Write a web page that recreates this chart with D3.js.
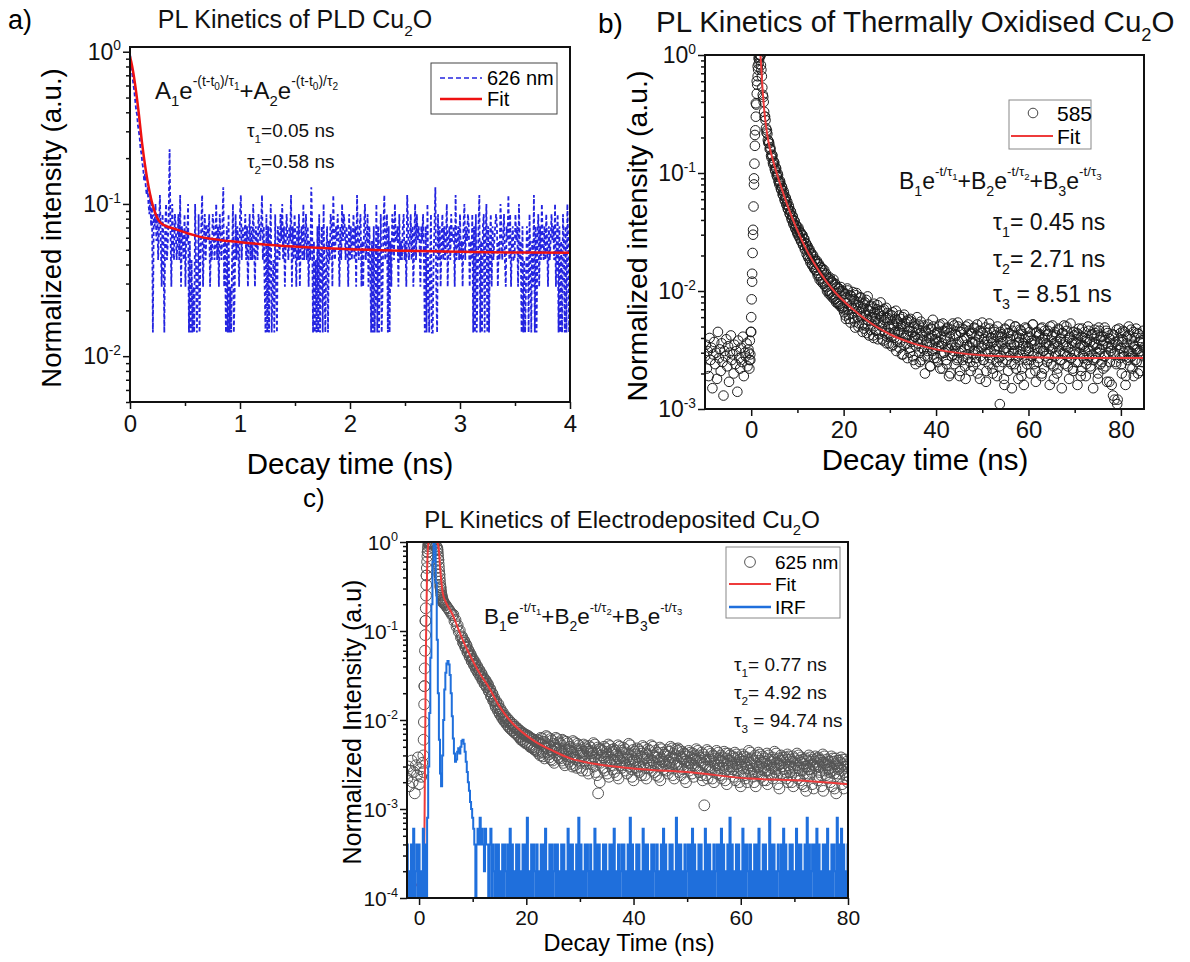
<!DOCTYPE html>
<html>
<head>
<meta charset="utf-8">
<script src="https://cdn.jsdelivr.net/npm/d3@7"></script>
<style>
  body { margin: 0; background: #fff; }
  svg { font-family: "Liberation Sans", Arial, sans-serif; }
</style>
</head>
<body>
<script>
// ---------- panel a: PLD Cu2O, photon counts (peak = 70 counts), 0.008 ns bins
var aStart = 0, aStep = 0.008, aPeak = 70;
var aCounts = [
  68,60,54,47,42,38,33,29,27,23, 21,19,16,15,13,12,10,11,9,8, 9,7,6,8,5,7,1,6,5,7, 4,6,
  3,5,8,4,2,6,4,1,5,7,3,4,6,16,5,2,7,4,3,6,
  5,3,4,6,3,8,2,5,4,3,6,2,5,4,7,1,4,1,3,1,
  2,1,7,3,1,2,6,1,3,5,8,2,4,6,3,5,5,4,6,2,
  4,3,6,5,3,4,7,3,5,2,6,4,3,5,9,2,4,1,5,1,
  6,1,2,1,3,7,1,2,6,3,5,4,2,6,8,3,5,4,4,6,
  3,5,2,4,6,3,5,3,7,4,2,5,4,3,6,5,4,5,8,3,
  5,2,1,6,1,5,1,4,7,1,2,3,1,6,2,1,5,4,3,6,
  4,7,3,5,2,4,6,4,3,5,4,8,2,5,3,6,4,2,5,3,
  6,2,4,5,3,7,3,4,6,3,5,2,4,3,9,5,1,4,1,3,
  1,5,1,6,1,3,5,1,7,2,1,3,5,1,4,3,6,5,2,8,
  4,3,5,4,6,4,2,5,3,7,4,6,5,3,5,4,2,6,3,5,
  3,4,6,3,5,2,8,4,3,5,6,2,4,2,5,7,3,4,6,2,
  5,3,1,4,1,5,1,2,7,1,5,1,3,6,1,2,5,8,3,4,
  6,1,5,1,4,2,6,5,3,7,4,4,5,2,6,3,4,3,5,6,
  3,4,2,8,5,3,4,6,3,5,2,4,7,3,6,4,5,4,2,5,
  4,6,3,1,5,1,7,2,1,3,6,1,1,3,5,9,2,1,6,3,
  5,2,4,6,3,5,3,4,7,2,4,5,3,6,4,4,5,2,8,3,
  4,5,3,6,3,4,2,5,7,3,5,4,6,5,2,4,3,6,1,5,
  1,6,1,2,5,8,1,4,1,5,6,1,4,7,1,5,1,4,6,2,
  5,3,4,5,6,5,2,4,3,7,5,3,4,6,3,2,5,4,8,3,
  6,2,4,5,3,3,6,4,5,2,7,3,4,1,5,1,3,1,2,5,
  4,1,6,3,1,4,2,8,1,5,1,4,6,2,5,3,7,4,3,5,
  3,6,4,2,5,3,4,6,4,5,3,7,2,4,6,1,5,1,4,1,
  6,4,1,5,1,7,4,1,5
];
var aFitT = [0, 0.02, 0.045, 0.077, 0.11, 0.157, 0.21, 0.28, 0.42, 0.63, 0.9, 1.25, 1.6, 1.95, 2.5, 3.0, 3.5, 4.0];
var aFitV = [0.93, 0.80, 0.62, 0.41, 0.25, 0.145, 0.096, 0.075, 0.068, 0.061, 0.057, 0.054, 0.052, 0.0505, 0.0492, 0.0485, 0.048, 0.0478];
var aXTicks = [0, 1, 2, 3, 4];
var aXMinor = [0.5, 1.5, 2.5, 3.5];
var aYExp = [0, -1, -2];

// ---------- panel b: thermally oxidised, values in units of 1e-4, 0.2 ns bins from -10 ns
var unit = 1e-4;
var bStart = -10, bStep = 0.2;
var bSignal = [
  28,35,22,31,19,40,26,33,15,29, 37,24,30,18,45,27,32,21,36,25, 13,31,28,39,23,34,17,30,42,26,
  29,20,35,24,31,14,38,27,22,33, 25,41,19,30,28,36,23,32,26,29,
  45,120,300,900,2100,3900,6000,8000,9400,10000,9900,
  7500,5300,4400,3300,3000,2400,2300,1900,1850,1600,
  1580,1350,1400,1180,1220,1040,1090,930,960,830,
  860,740,770,660,700,600,620,540,570,490,
  510,445,470,400,425,365,390,335,355,310,
  345,290,315,265,300,245,275,225,255,205,
  240,190,225,175,210,165,200,155,185,150,
  180,135,170,125,160,120,155,115,150,110,
  140,100,122,95,130,92,118,88,125,85,
  115,80,96,78,105,75,108,72,100,70,
  95,62,88,105,70,58,92,75,64,98,
  85,55,72,96,60,50,80,66,88,52,
  72,48,80,62,44,90,56,68,47,75,
  60,42,78,55,46,70,39,64,52,80,
  50,68,38,57,44,72,41,59,36,63,
  48,34,66,52,40,58,31,55,45,62,
  37,50,29,60,44,35,53,42,27,57,
  46,33,55,39,28,50,41,24,48,36,
  52,30,44,26,38,49,32,20,45,35,
  28,47,36,23,42,31,50,27,39,33,
  44,25,37,52,29,34,22,46,30,40,
  26,48,33,19,41,36,28,53,31,24,
  43,35,27,50,30,21,45,38,26,47,
  32,18,40,29,52,34,25,44,37,23,
  49,31,27,42,20,36,46,28,33,54,
  26,39,30,17,44,35,24,48,31,40,
  22,37,45,29,34,19,41,27,11,36,
  43,25,32,16,47,30,38,21,44,28,
  35,15,42,31,24,50,27,36,18,40,
  29,46,22,34,16,39,31,48,26,33,
  41,20,36,28,52,24,38,17,45,30,
  27,43,33,19,49,31,22,40,35,25,
  46,29,16,38,32,51,23,36,28,42,
  20,34,47,26,39,15,44,30,24,37,
  50,28,33,18,41,27,36,22,45,31,
  25,39,16,43,30,35,21,48,28,34,
  40,19,37,26,46,32,23,42,29,15,
  36,44,27,33,18,49,30,24,41,35,
  22,38,28,46,17,34,40,25,31,16,
  43,29,12,37,24,11,35,48,27,33,
  20,39,30,45,16,36,26,42,31,23,
  47,28,35,19,40,32,25,44,30,37,
  21,38,29,46,33
];
// in-between bins after the peak (2.1 ns onwards)
var bOddStart = 2.1;
var bOdd = [
  8200,6600,4600,4000,3000,2800,2200,2150,1800,1780,
  1650,1400,1430,1220,1250,1080,1110,960,990,860,
  800,830,720,750,650,670,580,610,540,500,
  530,455,475,415,435,375,395,345,362,318,
  300,330,280,310,262,296,245,275,230,250,
  235,198,222,185,205,170,195,160,180,150,
  175,142,168,136,158,128,150,121,142,116,
  136,108,130,101,126,97,122,94,118,90,
  112,86,108,80,104,78,100,75,97,73,
  66,94,58,79,101,63,85,54,90,72,
  59,83,49,92,67,76,53,88,61,70,
  45,78,63,51,84,57,69,42,74,60,
  52,71,40,66,58,47,76,55,43,68,
  61,39,54,70,46,59,36,65,50,44,
  57,41,62,35,50,45,68,38,53,47,
  33,58,44,51,29,63,40,36,55,42,
  49,30,58,37,45,26,53,41,34,60,
  39,47,25,55,33,42,51,28,46,37,
  31,52,40,23,48,35,57,29,43,38,
  27,45,34,50,22,41,36,53,30,46,
  38,24,49,32,44,20,47,35,29,51,
  33,42,26,54,37,19,45,31,48,28,
  40,23,50,35,27,46,33,21,43,36,
  29,48,37,25,52,31,41,18,46,34,
  44,26,35,49,21,38,30,53,27,40,
  36,20,47,32,42,25,50,34,23,45,
  28,41,37,18,48,33,26,44,31,52,
  39,24,46,30,35,50,22,41,28,37,
  47,32,19,43,36,27,49,34,24,40,
  31,45,26,38,52,29,35,21,44,33,
  25,42,37,48,20,39,31,46,28,36,
  43,27,34,50,24,41,33,18,45,30,
  37,22,48,31,39,26,44,35,51,29,
  34,46,23,40,30,53,27,38,21,42,
  29,36,44,25,48,33,19,41,35,27,
  45,31,24,39,50,28,37,22,43,34,
  26,47,35,30,42,20,46,32,38,25,
  41,28,49,23,36,44,30,17,39,33,
  35,13,42,30,25,47,12,38,29,44,
  24,37,46,28,33,19,41,31,50,27,
  39,30,22,45,34,26,48,32,20,43,
  31,40,25,36,28
];
// finer sampling of the rising edge
var bRiseStart = -0.5, bRiseStep = 0.1;
var bRise = [30,22,38,26,45,60,85,140,210,330,520,800,1200,1700,2300,3000,3800,4700,5600,6600,7500,8400,9100,9600,9900,10000];
var bFitT = [1.9, 2, 2.5, 3, 3.5, 4, 5, 6, 8, 10, 12, 15, 18, 22, 26, 30, 35, 40, 50, 60, 70, 85];
var bFitV = [1.1, 0.996, 0.481, 0.290, 0.208, 0.164, 0.1165, 0.0867, 0.0512, 0.0326, 0.0222, 0.0141, 0.0099, 0.0070, 0.0053, 0.0043, 0.0036, 0.0032, 0.00285, 0.00275, 0.00271, 0.0027];
var bXTicks = [0, 20, 40, 60, 80];
var bXMinor = [10, 30, 50, 70];
var bYExp = [0, -1, -2, -3];

// ---------- panel c: electrodeposited, units of 1e-4, 0.2 ns bins from -2.2 ns
var cStart = -2.2, cStep = 0.2;
var cSignal = [
  22,30,18,27,35,20,26,15,31,24,38,19,28,23,33,26,
  240,1300,4200,7700,9700,10000,9900,10000,9700,9300,9800,9000,8200,6300,4300,3100,2500,2250,2100,2000,1950,1850,1800,1720,1650,1580,1500,
  1520,1290,1330,1120,1160,980,1010,850,870,740,
  780,660,700,580,610,520,550,460,490,420,
  450,375,405,340,365,310,335,280,300,255,
  280,235,255,210,225,185,200,165,178,148,
  162,135,150,120,133,110,122,100,112,95,
  105,86,99,80,93,76,89,72,84,70,
  80,65,76,60,73,58,70,55,68,54,
  66,52,63,49,61,47,58,45,56,44,
  58,40,53,62,43,37,55,48,64,41,
  50,36,59,44,33,52,47,61,38,45,
  54,35,42,58,31,46,39,55,34,44,
  48,30,41,56,36,29,45,52,33,40,
  27,44,38,51,32,46,25,42,49,35,
  43,30,53,36,24,15,47,33,40,45,
  38,27,48,34,42,23,51,31,36,44,
  26,45,33,39,22,50,35,29,43,37,
  47,31,25,41,36,52,28,34,21,44,
  33,39,27,46,30,24,42,36,49,29,
  22,40,35,45,31,27,50,33,38,24,
  43,30,36,21,47,34,28,41,32,39,
  25,44,33,29,48,36,22,40,31,45,
  30,46,24,37,28,42,34,20,39,33,
  27,43,31,36,23,40,29,35,45,26,
  38,24,33,41,11,30,36,22,44,28,
  34,27,40,20,37,31,25,43,29,35,
  22,38,32,27,42,19,35,30,40,26,
  33,28,37,21,41,30,25,36,18,34,
  29,39,24,32,20,36,27,43,31,23,
  35,26,18,38,30,24,41,28,33,21,
  37,27,32,19,40,25,34,29,22,36,
  28,42,24,31,17,35,30,38,23,33,
  26,36,20,39,29,24,34,18,37,27,
  31,22,40,27,33,19,36,25,30,16,
  35,28,23,38,26,32,17,34,29,37,
  21,30,36,24,33,16,39,27,31,22,
  34,26,29,18,37,25,32,15,35,28,
  23,33,27,36,17,30,24,34,20
];
// in-between bins of the decay (8.1 ns onwards)
var cOddStart = 8.1;
var cOdd = [
  830,730,750,650,670,575,590,510,525,455,
  470,410,430,370,390,338,358,310,325,282,
  290,252,268,232,245,210,220,186,196,168,
  165,140,150,127,135,115,124,105,113,97,
  106,90,99,84,93,80,88,76,84,72,
  81,68,77,64,72,61,70,58,67,56,
  65,53,64,50,62,49,60,47,58,46,
  60,42,55,63,44,39,57,50,66,43,
  52,38,61,46,35,54,49,63,40,47,
  56,37,44,60,33,48,41,57,36,46,
  50,32,43,58,38,31,47,54,35,42,
  29,46,40,53,34,48,27,44,51,37,
  45,32,55,38,26,42,49,35,20,47,
  40,29,50,36,44,25,53,33,38,46,
  28,47,35,41,24,52,37,31,45,39,
  49,33,27,43,38,54,30,36,23,46,
  35,41,29,48,32,26,44,38,51,31,
  24,42,37,47,33,29,52,35,40,26,
  45,32,38,23,49,36,30,43,34,41,
  27,46,35,31,50,38,24,42,33,47,
  32,48,26,39,30,44,36,22,41,35,
  29,45,33,38,25,42,31,37,47,28,
  40,26,35,43,21,32,38,24,46,30,
  36,29,42,22,39,33,27,45,31,37,
  24,40,34,29,44,21,37,32,42,28,
  35,30,39,23,43,32,27,38,20,36,
  31,41,26,34,22,38,29,45,33,25,
  37,28,20,40,32,26,43,30,35,23,
  39,29,34,21,42,27,36,31,24,38,
  30,44,26,33,19,37,32,40,25,35,
  28,38,22,41,31,26,36,20,39,29,
  33,24,42,29,35,21,38,27,32,18,
  37,30,25,40,28,34,19,36,31,39,
  23,32,38,26,35,18,41,29,33,24,
  36,28,31,20,39,27,34,17,37,30,
  25,35,29,38,19,32,26,36,22,30
];
// finer sampling of the rising and falling edges
var cRiseStart = 0.8, cEdgeStep = 0.05;
var cRise = [40,60,95,150,240,380,600,900,1300,1800,2500,3300,4200,5100,6000,6900,7700,8400,9000,9400,9700,9900,10000,10000,9950];
var cFallStart = 3.4;
var cFall = [8600,8100,7500,6900,6300,5700,5200,4700,4300,3900,3600,3300,3100,2900,2750,2600,2500,2400,2320,2250,2200,2150,2100,2070,2040];
// IRF, same bins as cSignal
var cIrf = [
  4,0,2,0,4,0,6,0,2,4,0,4,0,2,0,6,0,4,0,
  8,30,120,500,2000,6000,10000,9000,3500,800,200,60,25,18,40,100,220,340,430,460,420,320,200,110,
  62,42,34,36,44,48,42,50,58,60,54,44,34,26,20,16,12,10,8,6,4,0,
  4,6,4,8,4,6,4,2,6,4,4,0,4,6,0,4,2,0,4,0,
  4,0,2,0,4,0,4,2,0,4,0,6,0,4,0,2,0,4,0,4,
  0,2,0,4,0,4,0,8,0,2,0,4,0,4,2,0,4,0,2,0,
  4,0,4,0,6,0,2,0,4,0,4,0,2,4,0,4,0,2,0,4,
  0,4,0,2,0,6,0,4,0,4,0,2,0,4,0,8,0,4,0,2,
  0,4,0,4,2,0,4,0,2,0,6,0,4,0,4,0,2,0,4,0,
  4,0,2,0,4,0,4,0,6,0,2,0,4,0,2,4,0,4,0,2,
  0,4,0,8,0,4,0,2,0,4,0,4,0,2,0,6,0,4,0,4,
  0,2,0,4,0,4,2,0,4,0,2,0,4,0,6,0,4,0,2,0,
  4,0,4,0,2,0,8,0,4,0,4,0,2,0,4,0,2,4,0,4,
  0,6,0,4,0,2,0,4,0,4,0,2,0,6,0,4,0,4,0,2,
  0,4,0,2,4,0,4,0,6,0,4,0,2,0,4,0,8,0,4,0,
  2,0,4,0,4,0,2,0,6,0,4,0,4,2,0,4,0,2,0,4,
  0,4,0,6,0,2,0,4,0,4,0,2,0,8,0,4,0,4,0,2,
  0,4,2,0,4,0,6,0,4,0,2,0,4,0,4,0,2,0,6,0,
  4,0,4,0,2,0,4,0,8,0,4,0,2,4,0,4,0,6,0,4,
  0,2,0,4,0,4,0,6,0,2,0,4,0,4,2,0,8,0,4,0,6,0,4,0,2,0,4
];
var cFitT = [-2.25, 0.9, 1.1, 1.3, 1.5, 1.8, 3.0, 3.6, 4.0, 4.4, 5.0, 5.6, 6.2, 7.2, 8.2, 9.2, 10.2, 11.5, 12.9, 14.9, 17, 19, 21.5, 25, 28.2, 33, 41.5, 50, 61.6, 70, 80];
var cFitV = [0.00012, 0.00018, 0.003, 0.08, 0.5, 1.0, 1.1, 0.9, 0.45, 0.27, 0.21, 0.18, 0.155, 0.11, 0.078, 0.058, 0.044, 0.032, 0.024, 0.0145, 0.0098, 0.0075, 0.0058, 0.0045, 0.0037, 0.0032, 0.0028, 0.0026, 0.0022, 0.0021, 0.0019];
var cXTicks = [0, 20, 40, 60, 80];
var cXMinor = [10, 30, 50, 70];
var cYExp = [0, -1, -2, -3, -4];

var svg = d3.select("body").append("svg")
  .attr("width", 1190)
  .attr("height", 962);

// text with sub / superscripts: parts = [[text, kind]]
function rich(sel, x, y, size, parts, anchor) {
  var t = sel.append("text")
    .attr("x", x).attr("y", y)
    .attr("font-size", size)
    .attr("text-anchor", anchor || "start")
    .attr("fill", "#111");
  var shift = { n: 0, sub: 0.3, sup: -0.55, ss: -0.38, tsup: -0.42 };
  var scale = { n: 1, sub: 0.62, sup: 0.58, ss: 0.42, tsup: 0.6 };
  var cur = 0;
  parts.forEach(function(p) {
    var k = p[1] || "n";
    var off = shift[k] * size;
    t.append("tspan")
      .attr("dy", off - cur)
      .attr("font-size", size * scale[k])
      .text(p[0]);
    cur = off;
  });
  return t;
}

function series(start, step, vals) {
  return vals.map(function(v, i) { return { t: start + i * step, v: v * unit }; });
}

function panel(o) {
  var x = d3.scaleLinear().domain(o.xDomain).range([o.left, o.right]);
  var y = d3.scaleLog().domain(o.yDomain).range([o.bottom, o.top]);

  svg.append("clipPath").attr("id", o.id)
    .append("rect")
    .attr("x", o.left).attr("y", o.top)
    .attr("width", o.right - o.left).attr("height", o.bottom - o.top);

  var plot = svg.append("g").attr("clip-path", "url(#" + o.id + ")");
  var axes = svg.append("g");

  // x axis, minor then major
  axes.append("g")
    .attr("transform", "translate(0," + o.bottom + ")")
    .call(d3.axisBottom(x).tickValues(o.xMinor).tickSize(4).tickFormat(""))
    .call(function(g) { g.select(".domain").remove(); });
  axes.append("g")
    .attr("transform", "translate(0," + o.bottom + ")")
    .attr("font-family", "Liberation Sans, Arial, sans-serif")
    .call(d3.axisBottom(x).tickValues(o.xTicks).tickSize(7).tickPadding(o.xPad).tickFormat(d3.format("d")))
    .call(function(g) {
      g.select(".domain").remove();
      g.selectAll("text").attr("font-size", o.tickFont).attr("fill", "#111");
    });

  // y axis, minor ticks from the log scale, majors at decades
  var majors = o.yExp.map(function(e) { return Math.pow(10, e); });
  var minors = y.ticks().filter(function(v) {
    return Math.abs(Math.log10(v) - Math.round(Math.log10(v))) > 1e-6;
  });
  axes.append("g")
    .attr("transform", "translate(" + o.left + ",0)")
    .call(d3.axisLeft(y).tickValues(minors).tickSize(4).tickFormat(""))
    .call(function(g) { g.select(".domain").remove(); });
  axes.append("g")
    .attr("transform", "translate(" + o.left + ",0)")
    .call(d3.axisLeft(y).tickValues(majors).tickSize(7).tickFormat(""))
    .call(function(g) { g.select(".domain").remove(); });
  axes.selectAll("line").attr("stroke", "#111").attr("stroke-width", 1.5);

  o.yExp.forEach(function(e) {
    rich(axes, o.left - 9, y(Math.pow(10, e)) + o.yFont * 0.36, o.yFont,
      [["10"], [String(e), "tsup"]], "end");
  });

  return { x: x, y: y, plot: plot, o: o };
}

function frame(p) {
  var o = p.o;
  svg.append("rect")
    .attr("x", o.left).attr("y", o.top)
    .attr("width", o.right - o.left).attr("height", o.bottom - o.top)
    .attr("fill", "none").attr("stroke", "#111").attr("stroke-width", 2);
}

// ================= panel a =================
var pa = panel({ id: "ca", left: 130, right: 570, top: 47, bottom: 402,
  xDomain: [0, 4], yDomain: [0.005, 1.074], xTicks: aXTicks, xMinor: aXMinor,
  yExp: aYExp, tickFont: 24, yFont: 23, xPad: 6 });

var aLine = d3.line()
  .x(function(d) { return pa.x(d.t); })
  .y(function(d) { return pa.y(d.v); });

pa.plot.append("path")
  .datum(aCounts.map(function(c, i) { return { t: aStart + i * aStep, v: c / aPeak }; }))
  .attr("d", aLine)
  .attr("fill", "none")
  .attr("stroke", "#2424e0")
  .attr("stroke-width", 1.8)
  .attr("stroke-dasharray", "4,2.5");

pa.plot.append("path")
  .datum(aFitT.map(function(t, i) { return { t: t, v: aFitV[i] }; }))
  .attr("d", aLine.curve(d3.curveMonotoneX))
  .attr("fill", "none")
  .attr("stroke", "#ee1111")
  .attr("stroke-width", 2.5);
frame(pa);

svg.append("text").attr("x", 8).attr("y", 29).attr("font-size", 27).text("a)");
rich(svg, 295, 28, 25, [["PL Kinetics of PLD Cu"], ["2", "sub"], ["O"]], "middle");
svg.append("text")
  .attr("transform", "translate(61,228) rotate(-90)")
  .attr("text-anchor", "middle").attr("font-size", 27.5)
  .text("Normalized intensity (a.u.)");
svg.append("text").attr("x", 350).attr("y", 474)
  .attr("text-anchor", "middle").attr("font-size", 29.5)
  .text("Decay time (ns)");

// legend a
svg.append("rect").attr("x", 431).attr("y", 63).attr("width", 126).attr("height", 51)
  .attr("fill", "#fff").attr("stroke", "#444").attr("stroke-width", 1);
svg.append("line").attr("x1", 440).attr("x2", 482).attr("y1", 78).attr("y2", 78)
  .attr("stroke", "#2424e0").attr("stroke-width", 1.6).attr("stroke-dasharray", "5,3");
svg.append("text").attr("x", 487).attr("y", 85).attr("font-size", 20).text("626 nm");
svg.append("line").attr("x1", 440).attr("x2", 482).attr("y1", 99).attr("y2", 99)
  .attr("stroke", "#ee1111").attr("stroke-width", 2.5);
svg.append("text").attr("x", 487).attr("y", 106).attr("font-size", 20).text("Fit");

rich(svg, 155, 99, 24, [["A"], ["1", "sub"], ["e"], ["-(t-t", "sup"], ["0", "ss"], [")/\u03c4", "sup"], ["1", "ss"],
  ["+A"], ["2", "sub"], ["e"], ["-(t-t", "sup"], ["0", "ss"], [")/\u03c4", "sup"], ["2", "ss"]]);
rich(svg, 247, 137, 19, [["\u03c4"], ["1", "sub"], ["=0.05 ns"]]);
rich(svg, 247, 168, 19, [["\u03c4"], ["2", "sub"], ["=0.58 ns"]]);

// ================= panel b =================
var pb = panel({ id: "cb", left: 705, right: 1144, top: 55, bottom: 409,
  xDomain: [-10, 85], yDomain: [0.001, 1], xTicks: bXTicks, xMinor: bXMinor,
  yExp: bYExp, tickFont: 24, yFont: 23, xPad: 5 });

var bPoints = series(bStart, bStep, bSignal)
  .concat(series(bOddStart, bStep, bOdd))
  .concat(series(bRiseStart, bRiseStep, bRise));

pb.plot.selectAll("circle")
  .data(bPoints)
  .enter()
  .append("circle")
  .attr("cx", function(d) { return pb.x(d.t); })
  .attr("cy", function(d) { return pb.y(d.v); })
  .attr("r", 4.8)
  .attr("fill", "none")
  .attr("stroke", "#1e1e1e")
  .attr("stroke-width", 1);

pb.plot.append("path")
  .datum(bFitT.map(function(t, i) { return { t: t, v: bFitV[i] }; }))
  .attr("d", d3.line().curve(d3.curveMonotoneX)
    .x(function(d) { return pb.x(d.t); })
    .y(function(d) { return pb.y(d.v); }))
  .attr("fill", "none")
  .attr("stroke", "#ee3b3b")
  .attr("stroke-width", 2);
frame(pb);

svg.append("text").attr("x", 598).attr("y", 33).attr("font-size", 28).text("b)");
rich(svg, 656, 32, 29.5, [["PL Kinetics of Thermally Oxidised Cu"], ["2", "sub"], ["O"]]);
svg.append("text")
  .attr("transform", "translate(647,236) rotate(-90)")
  .attr("text-anchor", "middle").attr("font-size", 28.5)
  .text("Normalized intensity (a.u.)");
svg.append("text").attr("x", 925).attr("y", 470)
  .attr("text-anchor", "middle").attr("font-size", 29.5)
  .text("Decay time (ns)");

// legend b
svg.append("rect").attr("x", 1009).attr("y", 100).attr("width", 82).attr("height", 49)
  .attr("fill", "#fff").attr("stroke", "#888").attr("stroke-width", 1);
svg.append("circle").attr("cx", 1033).attr("cy", 113).attr("r", 4.8)
  .attr("fill", "none").attr("stroke", "#444");
svg.append("text").attr("x", 1057).attr("y", 121).attr("font-size", 21).text("585");
svg.append("line").attr("x1", 1011).attr("x2", 1053).attr("y1", 136).attr("y2", 136)
  .attr("stroke", "#ee3b3b").attr("stroke-width", 2);
svg.append("text").attr("x", 1057).attr("y", 144).attr("font-size", 21).text("Fit");

rich(svg, 899, 189, 23, [["B"], ["1", "sub"], ["e"], ["-t/\u03c4", "sup"], ["1", "ss"],
  ["+B"], ["2", "sub"], ["e"], ["-t/\u03c4", "sup"], ["2", "ss"],
  ["+B"], ["3", "sub"], ["e"], ["-t/\u03c4", "sup"], ["3", "ss"]]);
rich(svg, 993, 230, 23, [["\u03c4"], ["1", "sub"], ["= 0.45 ns"]]);
rich(svg, 993, 267, 23, [["\u03c4"], ["2", "sub"], ["= 2.71 ns"]]);
rich(svg, 993, 302, 23, [["\u03c4"], ["3", "sub"], [" = 8.51 ns"]]);

// ================= panel c =================
var pc = panel({ id: "cc", left: 407, right: 848, top: 542, bottom: 898,
  xDomain: [-2.25, 80], yDomain: [0.0001, 1], xTicks: cXTicks, xMinor: cXMinor,
  yExp: cYExp, tickFont: 21, yFont: 21, xPad: 5 });

var cPoints = series(cStart, cStep, cSignal)
  .concat(series(cOddStart, cStep, cOdd))
  .concat(series(cRiseStart, cEdgeStep, cRise))
  .concat(series(cFallStart, cEdgeStep, cFall));

pc.plot.selectAll("circle")
  .data(cPoints)
  .enter()
  .append("circle")
  .attr("cx", function(d) { return pc.x(d.t); })
  .attr("cy", function(d) { return pc.y(d.v); })
  .attr("r", 5.4)
  .attr("fill", "none")
  .attr("stroke", "#555")
  .attr("stroke-width", 1);

pc.plot.append("path")
  .datum(cFitT.map(function(t, i) { return { t: t, v: cFitV[i] }; }))
  .attr("d", d3.line().curve(d3.curveMonotoneX)
    .x(function(d) { return pc.x(d.t); })
    .y(function(d) { return pc.y(d.v); }))
  .attr("fill", "none")
  .attr("stroke", "#ee3b3b")
  .attr("stroke-width", 2);

// zero counts drop below the axis floor
pc.plot.append("path")
  .datum(series(cStart, cStep, cIrf.map(function(v) { return Math.max(v, 0.5); })))
  .attr("d", d3.line().curve(d3.curveStep)
    .x(function(d) { return pc.x(d.t); })
    .y(function(d) { return pc.y(d.v); }))
  .attr("fill", "none")
  .attr("stroke", "#1f6fdc")
  .attr("stroke-width", 2);
frame(pc);

svg.append("text").attr("x", 303).attr("y", 507).attr("font-size", 26).text("c)");
rich(svg, 622, 528, 24, [["PL Kinetics of Electrodeposited Cu"], ["2", "sub"], ["O"]], "middle");
svg.append("text")
  .attr("transform", "translate(361,722) rotate(-90)")
  .attr("text-anchor", "middle").attr("font-size", 25)
  .text("Normalized Intensity (a.u)");
svg.append("text").attr("x", 629).attr("y", 951)
  .attr("text-anchor", "middle").attr("font-size", 23.5)
  .text("Decay Time (ns)");

// legend c
svg.append("rect").attr("x", 726).attr("y", 547).attr("width", 114).attr("height", 71)
  .attr("fill", "#fff").attr("stroke", "#888").attr("stroke-width", 1);
svg.append("circle").attr("cx", 750).attr("cy", 562).attr("r", 5.4)
  .attr("fill", "none").attr("stroke", "#555");
svg.append("text").attr("x", 775).attr("y", 569).attr("font-size", 19).text("625 nm");
svg.append("line").attr("x1", 729).attr("x2", 771).attr("y1", 584).attr("y2", 584)
  .attr("stroke", "#ee3b3b").attr("stroke-width", 2);
svg.append("text").attr("x", 775).attr("y", 591).attr("font-size", 19).text("Fit");
svg.append("line").attr("x1", 729).attr("x2", 771).attr("y1", 607).attr("y2", 607)
  .attr("stroke", "#1f6fdc").attr("stroke-width", 2.5);
svg.append("text").attr("x", 775).attr("y", 614).attr("font-size", 19).text("IRF");

rich(svg, 484, 624, 22.5, [["B"], ["1", "sub"], ["e"], ["-t/\u03c4", "sup"], ["1", "ss"],
  ["+B"], ["2", "sub"], ["e"], ["-t/\u03c4", "sup"], ["2", "ss"],
  ["+B"], ["3", "sub"], ["e"], ["-t/\u03c4", "sup"], ["3", "ss"]]);
rich(svg, 734, 671, 19, [["\u03c4"], ["1", "sub"], ["= 0.77 ns"]]);
rich(svg, 734, 699, 19, [["\u03c4"], ["2", "sub"], ["= 4.92 ns"]]);
rich(svg, 734, 727, 19, [["\u03c4"], ["3", "sub"], [" = 94.74 ns"]]);
</script>
</body>
</html>
